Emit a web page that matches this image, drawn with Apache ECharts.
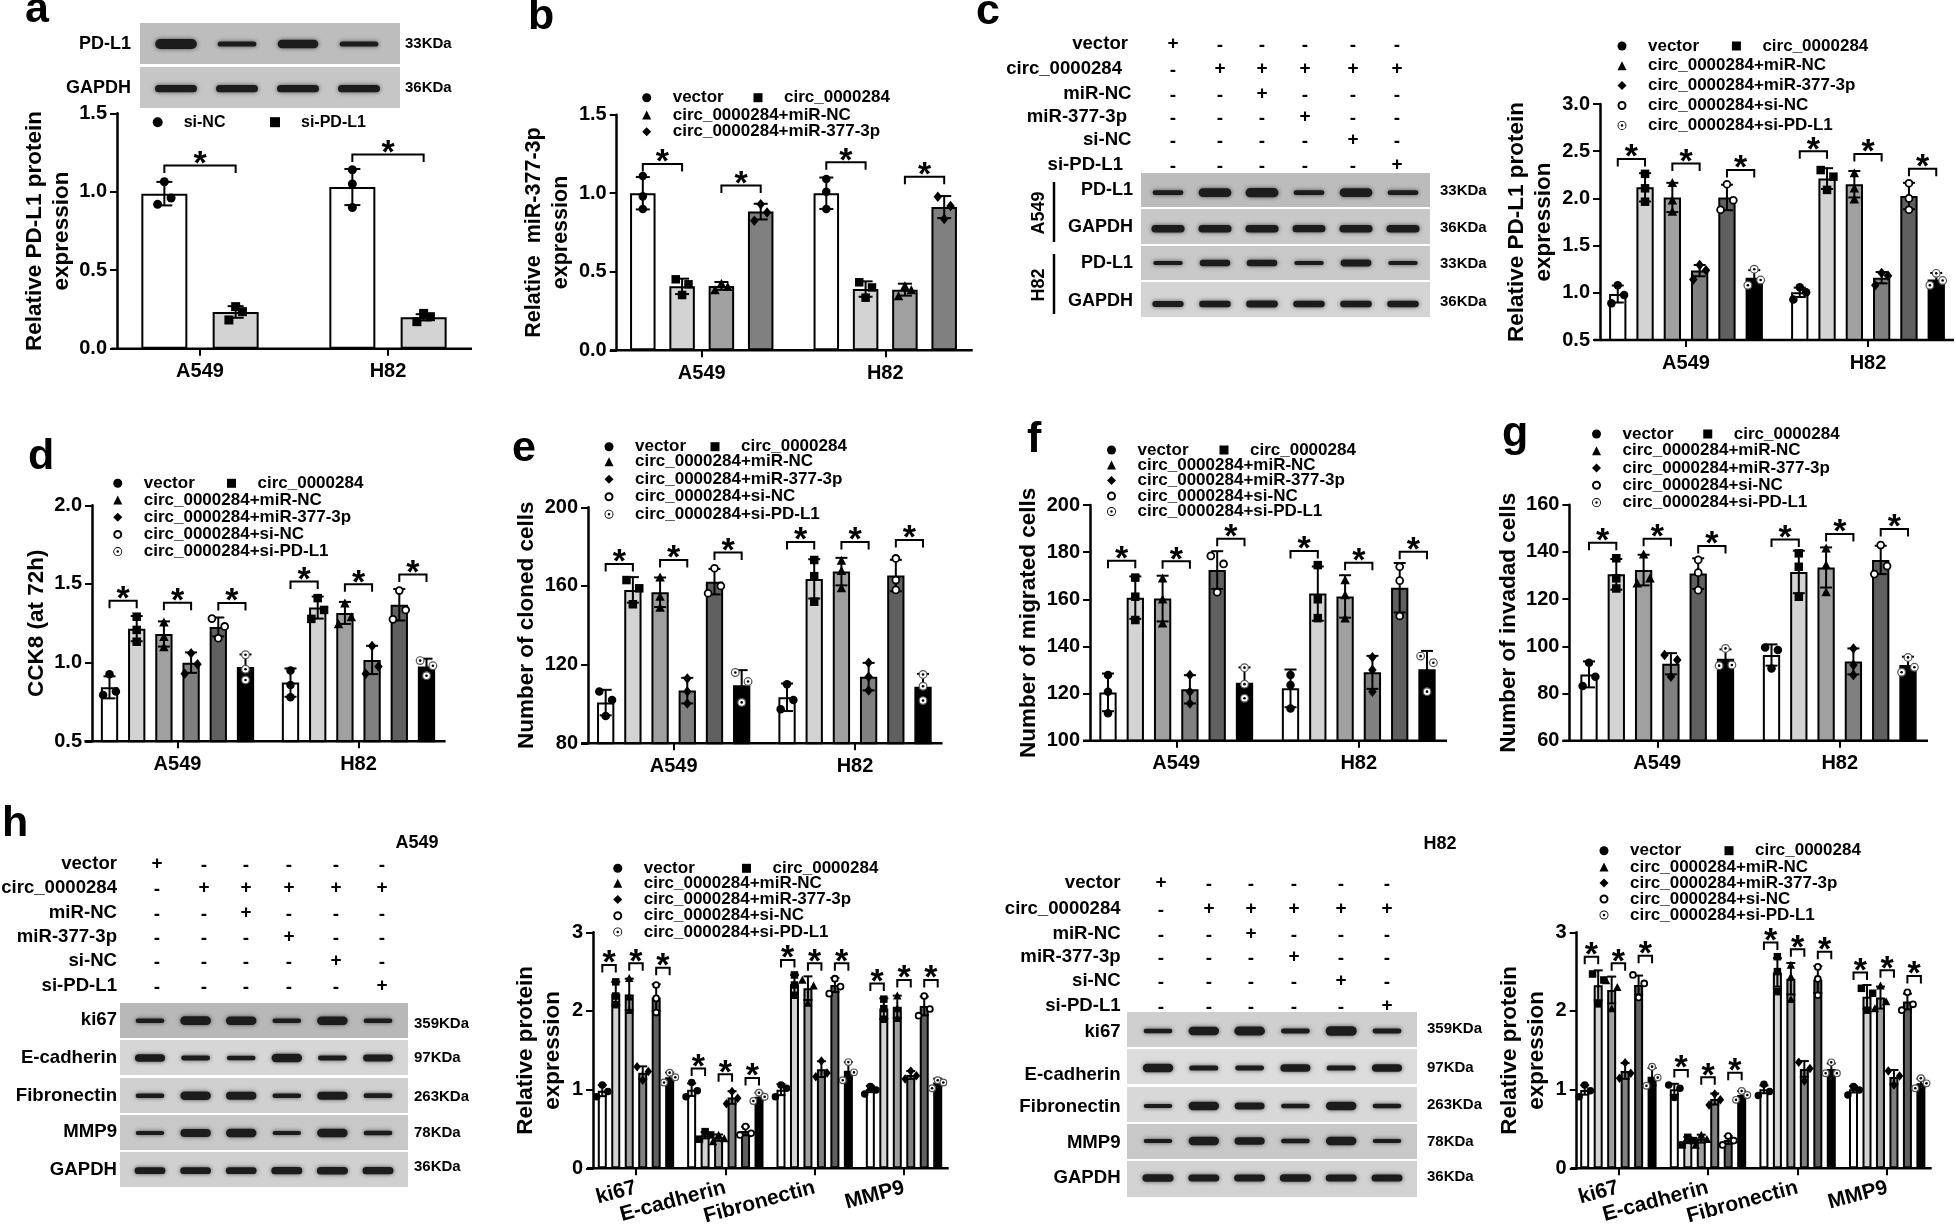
<!DOCTYPE html>
<html><head><meta charset="utf-8">
<script src="https://cdn.jsdelivr.net/npm/echarts@6/dist/echarts.min.js"></script>
<style>html,body{margin:0;background:#fff}#c{width:1956px;height:1225px}</style></head>
<body><div id="c"></div>
<script>
// ---------- categories and names ----------
const cells = ['A549','H82'];
const proteins = ['ki67','E-cadherin','Fibronectin','MMP9'];
const namesA = ['si-NC','si-PD-L1'];
const namesB = ['vector','circ_0000284','circ_0000284+miR-NC','circ_0000284+miR-377-3p'];
const namesC = ['vector','circ_0000284','circ_0000284+miR-NC','circ_0000284+miR-377-3p','circ_0000284+si-NC','circ_0000284+si-PD-L1'];
const treatments = ['vector','circ_0000284','miR-NC','miR-377-3p','si-NC','si-PD-L1'];
const treatmentSigns = ['+-----','-+++++','--+---','---+--','----+-','-----+'];

// ---------- series values: [series][category] ----------
const a_mean=[[.988,1.03],[.234,.20]];
const a_err=[[.075,.115],[.037,.02]];
const a_pts=[[[1.064,.96,.92],[1.14,1.05,.90]],[[.268,.236,.183],[.225,.204,.172]]];
const a_sig=[[1.168],[1.238]];

const b_mean=[[1.0,1.0],[.407,.39],[.41,.386],[.883,.912]];
const b_err=[[.103,.10],[.049,.049],[.025,.038],[.05,.07]];
const b_pts=[[[1.11,.98,.90],[1.09,1.01,.90]],[[.452,.42,.352],[.433,.40,.335]],[[.426,.405,.384],[.41,.384,.346]],[[.93,.878,.825],[.978,.918,.836]]];
const b_sig=[[1.186,1.05],[1.197,1.105]];

const c_mean=[[.987,1.005],[2.117,2.21],[2.01,2.15],[1.235,1.16],[2.01,2.025],[1.16,1.14]];
const c_err=[[.09,.05],[.15,.11],[.155,.14],[.06,.06],[.135,.14],[.08,.07]];
const c_pts=[[[1.08,.977,.888],[1.06,1.005,.93]],[[2.26,2.107,1.965],[2.30,2.23,2.09]],[[2.167,1.98,1.86],[2.27,2.107,1.99]],[[1.295,1.24,1.14],[1.21,1.18,1.08]],[[2.15,1.98,1.88],[2.16,2.0,1.88]],[[1.25,1.135,1.08],[1.206,1.13,1.08]]];
const c_sig=[[2.417,2.37,2.30],[2.50,2.47,2.315]];

const d_mean=[[.843,.873],[1.216,1.35],[1.182,1.316],[1.0,1.017],[1.227,1.368],[.972,.975]];
const d_err=[[.07,.09],[.08,.07],[.08,.07],[.065,.09],[.06,.10],[.08,.05]];
const d_pts=[[[.926,.816,.795],[.95,.858,.78]],[[1.292,1.208,1.133],[1.41,1.335,1.278]],[[1.256,1.165,1.10],[1.377,1.29,1.246]],[[1.06,.99,.93],[1.106,.975,.93]],[[1.28,1.23,1.155],[1.458,1.335,1.275]],[[1.05,.958,.89],[1.013,.98,.917]]];
const d_sig=[[1.394,1.381,1.379],[1.515,1.498,1.56]];

const e_mean=[[100.7,103.4],[158,163.6],[156.8,167.3],[106.8,113.9],[162.2,165.3],[109.5,108.8]];
const e_err=[[6.5,7],[6.5,10],[7.5,7],[6.5,7],[6.5,8],[7.7,6.5]];
const e_pts=[[[106.3,102,93.9],[110,102,97.3]],[[163,158.8,150.7],[173.2,165,152]],[[164.4,154.6,149],[172.9,167.8,159]],[[113,106.3,100.3],[121,113.9,106.8]],[[169,160,156.3],[174,163,158]],[[116,111.4,100.8],[115,109,101.7]]];
const e_sig=[[171.2,173.2,177],[182.4,182.4,183.4]];

const f_mean=[[120.5,122.2],[160.7,162.4],[160.3,161.2],[121.8,129],[172.4,164.9],[124.6,130.3]];
const f_err=[[8,8],[9,11.5],[9.7,9],[6,7],[8,10.5],[6.5,7.8]];
const f_pts=[[[127.9,120.8,111.6],[127.9,123.6,113.7]],[[169.2,161.1,151.2],[174.5,160,152]],[[168.9,160,149.8],[168.2,161.8,152]],[[127.9,120.8,115.8],[135.4,130,120.8]],[[178.4,175,163],[173.8,167.9,152.9]],[[131,124,118],[135.9,133.1,120.8]]];
const f_sig=[[176.4,176.1,185.7],[180.5,175.5,180.2]];

const g_mean=[[88.1,96.3],[130.5,131.5],[132.3,133.4],[92.6,93.6],[130.8,136.6],[94.7,92.1]];
const g_err=[[5.5,4.5],[6.5,9],[6.5,8.5],[4.5,5.5],[6.5,6],[4,3.5]];
const g_pts=[[[93,87.1,83.2],[99.5,98.4,90.6]],[[137.3,128.8,124.5],[139.4,133.7,121]],[[139,128.8,126.7],[141.5,134.4,123]],[[96.3,94.2,87.1],[99.1,92.1,87.8]],[[136.6,131.2,123.8],[142.9,134,130.6]],[[99.1,92.1,91.8],[95.3,91.1,89]]];
const g_sig=[[143.9,145.6,142.5],[145.3,147.6,149.7]];

const h1_mean=[[.987,1.0,1.0,1.008],[2.22,.42,2.34,2.03],[2.21,.39,2.29,2.055],[1.216,.90,1.26,1.186],[2.17,.475,2.33,2.064],[1.157,.91,1.24,1.09]];
const h1_err=[[.07,.08,.07,.04],[.15,.04,.12,.13],[.20,.04,.15,.14],[.08,.08,.10,.05],[.17,.055,.09,.12],[.06,.05,.11,.05]];
const h1_pts=[[[1.06,.975,.91],[1.09,.987,.91],[1.06,1.017,.91],[1.04,.996,.945]],[[2.37,2.19,2.08],[.466,.424,.37],[2.458,2.33,2.20],[2.15,2.03,1.895]],[[2.415,2.18,2.01],[.424,.38,.34],[2.394,2.32,2.10],[2.195,2.03,1.907]],[[1.29,1.23,1.12],[.975,.89,.82],[1.364,1.21,1.165],[1.237,1.178,1.136]],[[2.33,2.16,1.98],[.53,.445,.424],[2.41,2.31,2.22],[2.19,2.025,1.94]],[[1.216,1.157,1.09],[.96,.91,.856],[1.35,1.22,1.12],[1.12,1.09,1.017]]];
const h1_sig=[[2.585,2.606,2.55],[1.27,1.195,1.148],[2.648,2.606,2.606],[2.35,2.394,2.394]];

const h2_mean=[[.996,1.004,1.004,1.004],[2.326,.36,2.49,2.18],[2.267,.377,2.41,2.17],[1.237,.881,1.263,1.16],[2.33,.36,2.40,2.12],[1.165,.932,1.263,1.08]];
const h2_err=[[.06,.07,.05,.04],[.19,.04,.18,.15],[.17,.05,.20,.14],[.10,.07,.10,.09],[.12,.05,.17,.10],[.11,.05,.07,.06]];
const h2_pts=[[[1.06,.987,.91],[1.06,1.017,.90],[1.068,.975,.924],[1.04,.996,.932]],[[2.47,2.394,2.09],[.394,.352,.297],[2.69,2.5,2.246],[2.288,2.225,2.01]],[[2.386,2.30,2.03],[.424,.37,.297],[2.585,2.436,2.148],[2.32,2.12,2.03]],[[1.343,1.208,1.144],[.945,.87,.805],[1.347,1.27,1.11],[1.237,1.174,1.06]],[[2.458,2.35,2.17],[.41,.352,.297],[2.56,2.407,2.20],[2.237,2.085,2.01]],[[1.292,1.153,1.05],[.983,.932,.87],[1.347,1.208,1.208],[1.144,1.08,1.017]]];
const h2_sig=[[2.69,2.606,2.703],[1.25,1.157,1.216],[2.87,2.784,2.754],[2.49,2.517,2.445]];

// ---------- blot band strengths per lane ----------
const a_PDL1=[1,.4,.8,.4], a_GAPDH=[.65,.65,.65,.65];
const cA_PDL1=[.35,.85,.9,.35,.85,.35], cA_GAPDH=[.7,.7,.7,.65,.7,.7];
const cH_PDL1=[.25,.55,.55,.25,.6,.25], cH_GAPDH=[.5,.55,.6,.55,.55,.55];
const h1_ki67=[.3,.85,.8,.3,.8,.3], h1_ecad=[.7,.35,.3,.8,.35,.6], h1_fib=[.3,.8,.75,.3,.75,.35], h1_mmp=[.25,.75,.8,.25,.8,.3], h1_gapdh=[.6,.6,.6,.65,.7,.65];
const h2_ki67=[.3,.8,.85,.35,.95,.35], h2_ecad=[.8,.4,.35,.7,.4,.7], h2_fib=[.25,.8,.65,.3,.8,.3], h2_mmp=[.25,.8,.7,.3,.8,.25], h2_gapdh=[.7,.65,.65,.7,.65,.65];

// ---------- layout ----------
const FONT='"Liberation Sans"';
const barFills=['#ffffff','#d3d3d3','#a0a0a0','#808080','#606060','#000000'];
const P={circle:'path://M0,5A5,5,0,1,1,10,5A5,5,0,1,1,0,5Z',
 square:'path://M0,0H10V10H0Z',tri:'path://M5,0L10,10H0Z',dia:'path://M5,0L10,5L5,10L0,5Z',
 ring:'path://M0,5A5,5,0,1,1,10,5A5,5,0,1,1,0,5ZM2.2,5A2.8,2.8,0,1,0,7.8,5A2.8,2.8,0,1,0,2.2,5Z',
 target:'path://M0,5A5,5,0,1,1,10,5A5,5,0,1,1,0,5ZM1,5A4,4,0,1,0,9,5A4,4,0,1,0,1,5ZM3.6,5A1.4,1.4,0,1,1,6.4,5A1.4,1.4,0,1,1,3.6,5Z'};
const legendIcons=[P.circle,P.square,P.tri,P.dia,P.ring,P.target];
const f1=v=>v.toFixed(1), f0=v=>String(v);
const panels=[
 {names:namesA,cats:cells,mean:a_mean,err:a_err,pts:a_pts,sig:a_sig,L:106,R:482,T:113.3,B:348.7,ax:117,xs:111,xe:472,min:0,max:1.5,step:.5,fmt:f1,title:'Relative PD-L1 protein\nexpression',gap:42,tf:22.5,outer:48,pitch:71.3,cap:8,ms:9,
  leg:{x1:183.7,x2:301,y1:122.7,fs:16}},
 {names:namesB,cats:cells,mean:b_mean,err:b_err,pts:b_pts,sig:b_sig,L:610,R:977,T:114.7,B:350.3,ax:616.7,xs:610,xe:972.7,min:0,max:1.5,step:.5,fmt:f1,title:'Relative  miR-377-3p\nexpression',gap:41.7,tf:21.5,outer:27.5,pitch:39.3,cap:7,ms:8.5,
  leg:{x1:672.7,x2:784,y1:97.7,y2:115,pitch:16.8,fs:17}},
 {names:namesC,cats:cells,mean:c_mean,err:c_err,pts:c_pts,sig:c_sig,L:1595,R:1959,T:104,B:340,ax:1600,xs:1594,xe:1954,min:.5,max:3,step:.5,fmt:f1,title:'Relative PD-L1 protein\nexpression',gap:43,tf:22.5,outer:19.3,pitch:27.3,cap:6,ms:8.5,
  leg:{x1:1648,x2:1762.4,y1:46,y2:65.7,pitch:19.9,fs:17}},
 {names:namesC,cats:cells,mean:d_mean,err:d_err,pts:d_pts,sig:d_sig,L:87,R:449,T:505.3,B:741.3,ax:92,xs:84.4,xe:445.6,min:.5,max:2,step:.5,fmt:f1,title:'CCK8 (at 72h)',gap:40,tf:22.5,outer:19.3,pitch:27.2,cap:6,ms:8.5,
  leg:{x1:143.75,x2:257.5,y1:483.3,y2:500,pitch:17.2,fs:17}},
 {names:namesC,cats:cells,mean:e_mean,err:e_err,pts:e_pts,sig:e_sig,L:583,R:945.7,T:507.3,B:743.3,ax:588,xs:581,xe:942.5,min:80,max:200,step:40,fmt:f0,title:'Number of cloned cells',gap:46,tf:22.5,outer:19.3,pitch:27.2,cap:6,ms:8.5,
  leg:{x1:635,x2:741,y1:446.7,y2:461.7,pitch:17.5,fs:17}},
 {names:namesC,cats:cells,mean:f_mean,err:f_err,pts:f_pts,sig:f_sig,L:1085,R:1450,T:505,B:740.7,ax:1090,xs:1083,xe:1447,min:100,max:200,step:20,fmt:f0,title:'Number of migrated cells',gap:47,tf:22.5,outer:19.3,pitch:27.3,cap:6,ms:8.5,
  leg:{x1:1137.5,x2:1250,y1:450,y2:465,pitch:15.5,fs:17}},
 {names:namesC,cats:cells,mean:g_mean,err:g_err,pts:g_pts,sig:g_sig,L:1566,R:1931,T:504.7,B:740.7,ax:1569.4,xs:1562.5,xe:1928,min:60,max:160,step:20,fmt:f0,title:'Number of invadad cells',gap:46,tf:22.5,outer:19.3,pitch:27.3,cap:6,ms:8.5,
  leg:{x1:1622.5,x2:1733.75,y1:434,y2:450.7,pitch:17.3,fs:17}},
 {names:namesC,cats:proteins,mean:h1_mean,err:h1_err,pts:h1_pts,sig:h1_sig,L:591.3,R:948.7,T:932.3,B:1168.3,ax:593,xs:587,xe:948.7,min:0,max:3,step:1,fmt:f0,title:'Relative protein\nexpression',gap:27,tf:22.5,outer:11,pitch:13.47,cap:4.5,ms:7.5,rot:15,
  leg:{x1:643.75,x2:772.5,y1:868.3,y2:883.3,pitch:16.2,fs:17}},
 {names:namesC,cats:proteins,mean:h2_mean,err:h2_err,pts:h2_pts,sig:h2_sig,L:1573.6,R:1932,T:932.3,B:1168.3,ax:1576.7,xs:1570.7,xe:1931.7,min:0,max:3,step:1,fmt:f0,title:'Relative protein\nexpression',gap:26,tf:22.5,outer:11,pitch:13.47,cap:4.5,ms:7.5,rot:15,
  leg:{x1:1630,x2:1755,y1:850.7,y2:867,pitch:16,fs:17}}
];
const strips=[
 {b:a_PDL1,l:140,r:400,t:23,B:64,y:44,x0:176,p:61,w:40,bg:'#bdbdbd'},
 {b:a_GAPDH,l:140,r:400,t:67,B:108,y:88.7,x0:176,p:61,w:42,bg:'#c6c6c6'},
 {b:cA_PDL1,l:1141,r:1430,t:173,B:207,y:192.7,x0:1168,p:47,w:32,bg:'#bcbcbc'},
 {b:cA_GAPDH,l:1141,r:1430,t:209,B:244,y:228.7,x0:1168,p:47,w:33,bg:'#c8c8c8'},
 {b:cH_PDL1,l:1141,r:1430,t:246,B:280,y:263,x0:1168,p:47,w:31,bg:'#c8c8c8'},
 {b:cH_GAPDH,l:1141,r:1430,t:282,B:317,y:304,x0:1168,p:47,w:32,bg:'#d4d4d4'},
 {b:h1_ki67,l:120,r:408,t:1003,B:1038,y:1020.7,x0:150,p:45.6,w:30,bg:'#b8b8b8'},
 {b:h1_ecad,l:120,r:408,t:1040,B:1075,y:1058,x0:150,p:45.6,w:30,bg:'#d6d6d6'},
 {b:h1_fib,l:120,r:408,t:1078,B:1113,y:1095.7,x0:150,p:45.6,w:30,bg:'#d0d0d0'},
 {b:h1_mmp,l:120,r:408,t:1115,B:1150,y:1133,x0:150,p:45.6,w:30,bg:'#c8c8c8'},
 {b:h1_gapdh,l:120,r:408,t:1152,B:1187,y:1170.7,x0:150,p:45.6,w:31,bg:'#d0d0d0'},
 {b:h2_ki67,l:1127,r:1417,t:1012,B:1047,y:1031,x0:1158,p:45.8,w:30,bg:'#cfcfcf'},
 {b:h2_ecad,l:1127,r:1417,t:1049,B:1084,y:1068,x0:1158,p:45.8,w:30,bg:'#dcdcdc'},
 {b:h2_fib,l:1127,r:1417,t:1087,B:1122,y:1106,x0:1158,p:45.8,w:30,bg:'#d8d8d8'},
 {b:h2_mmp,l:1127,r:1417,t:1124,B:1159,y:1141,x0:1158,p:45.8,w:30,bg:'#c8c8c8'},
 {b:h2_gapdh,l:1127,r:1417,t:1161,B:1197,y:1178,x0:1158,p:45.8,w:31,bg:'#d2d2d2'}
];

// ---------- option building ----------
const grid=[],xAxis=[],yAxis=[],series=[],legend=[],graphic=[];
function text(x,y,s,fs,align,extra){graphic.push(Object.assign({type:'text',x,y,z:20,style:{text:s,fill:'#000',font:'bold '+fs+'px '+FONT,align:align||'left',verticalAlign:'middle'}},extra||{}));}
function line(x1,y1,x2,y2,lw){graphic.push({type:'line',z:15,shape:{x1,y1,x2,y2},style:{stroke:'#000',lineWidth:lw}});}

function marker(k,x,y,s){
 const r=s/2;
 if(k===0)return{type:'circle',shape:{cx:x,cy:y,r},style:{fill:'#000'}};
 if(k===1)return{type:'rect',shape:{x:x-r,y:y-r,width:s,height:s},style:{fill:'#000'}};
 if(k===2)return{type:'polygon',shape:{points:[[x,y-r-.5],[x+r+.5,y+r],[x-r-.5,y+r]]},style:{fill:'#000'}};
 if(k===3)return{type:'polygon',shape:{points:[[x,y-r-1],[x+r,y],[x,y+r+1],[x-r,y]]},style:{fill:'#000'}};
 if(k===4)return{type:'circle',shape:{cx:x,cy:y,r:r-.8},style:{fill:'#fff',stroke:'#000',lineWidth:1.8}};
 return{type:'group',children:[{type:'circle',shape:{cx:x,cy:y,r:r-.4},style:{fill:'#fff',stroke:'#555',lineWidth:1.2}},{type:'circle',shape:{cx:x,cy:y,r:1.3},style:{fill:'#000'}}]};
}
panels.forEach((p,pi)=>{
 const n=p.names.length,bw=p.outer-2;
 grid.push({left:p.L,top:p.T,width:p.R-p.L,height:p.B-p.T,outerBoundsMode:'none'});
 xAxis.push({gridIndex:pi,type:'category',data:p.cats,axisLine:{show:false,onZero:false},
  axisTick:{show:true,alignWithLabel:true,length:7,lineStyle:{color:'#000',width:2}},
  axisLabel:{interval:0,hideOverlap:false,color:'#000',fontFamily:FONT,fontWeight:'bold',fontSize:p.rot?21:20,margin:p.rot?19:13,rotate:p.rot||0}});
 yAxis.push({gridIndex:pi,type:'value',min:p.min,max:p.max,interval:p.step,offset:p.L-p.ax,splitLine:{show:false},
  axisLine:{show:true,lineStyle:{color:'#000',width:2.5}},axisTick:{show:true,length:7,lineStyle:{color:'#000',width:2}},
  axisLabel:{formatter:p.fmt,color:'#000',fontFamily:FONT,fontWeight:'bold',fontSize:20,margin:10},
  name:p.title,nameLocation:'middle',nameGap:p.gap,nameRotate:90,
  nameTextStyle:{color:'#000',fontFamily:FONT,fontWeight:'bold',fontSize:p.tf,lineHeight:27}});
 line(p.xs,p.B,p.xe,p.B,2.5);
 p.names.forEach((nm,si)=>{
  series.push({type:'bar',name:nm,xAxisIndex:pi,yAxisIndex:pi,data:p.mean[si],barWidth:bw,barGap:((p.pitch-bw)/bw*100).toFixed(1)+'%',z:2,silent:true,
   itemStyle:{color:barFills[si],borderColor:'#000',borderWidth:2}});
 });
 // error bars and replicate points
 const rows=[];
 p.names.forEach((nm,si)=>p.cats.forEach((c,ci)=>rows.push([si,ci,p.mean[si][ci],p.err[si][ci],...p.pts[si][ci]])));
 series.push({type:'custom',coordinateSystem:'cartesian2d',xAxisIndex:pi,yAxisIndex:pi,z:5,silent:true,clip:false,encode:{x:1,y:2},data:rows,
  renderItem(_,api){
   const si=api.value(0),ci=api.value(1);
   const x=api.coord([ci,p.mean[si][ci]])[0]+(si-(n-1)/2)*p.pitch;
   const top=api.coord([ci,api.value(2)+api.value(3)])[1],bot=api.coord([ci,api.value(2)-api.value(3)])[1];
   const ls={stroke:'#000',lineWidth:2};
   const kids=[
    {type:'line',shape:{x1:x,y1:top,x2:x,y2:bot},style:ls},
    {type:'line',shape:{x1:x-p.cap,y1:top,x2:x+p.cap,y2:top},style:ls},
    {type:'line',shape:{x1:x-p.cap,y1:bot,x2:x+p.cap,y2:bot},style:ls}];
   const ys=[4,5,6].map(i=>api.coord([ci,api.value(i)])[1]);
   const dx=[0,0,0],near=p.ms*1.15,sh=p.ms*.75;
   if(ys[1]-ys[0]<near&&ys[2]-ys[1]<near){dx[0]=0;dx[1]=sh;dx[2]=-sh;}
   else if(ys[1]-ys[0]<near){dx[0]=-sh;dx[1]=sh;}
   else if(ys[2]-ys[1]<near){dx[1]=sh;dx[2]=-sh;}
   ys.forEach((y,i)=>kids.push(marker(si,x+dx[i],y,p.ms)));
   return{type:'group',children:kids};
  }});
 // significance brackets
 const sigRows=[];
 p.sig.forEach((r,ci)=>r.forEach((v,k)=>sigRows.push([ci,k,v])));
 series.push({type:'custom',coordinateSystem:'cartesian2d',xAxisIndex:pi,yAxisIndex:pi,z:6,silent:true,clip:false,encode:{x:0,y:2},data:sigRows,
  renderItem(_,api){
   const ci=api.value(0),k=api.value(1),c=api.coord([ci,api.value(2)]);
   const x1=c[0]+(2*k-(n-1)/2)*p.pitch,x2=c[0]+(2*k+1-(n-1)/2)*p.pitch,y=c[1];
   return{type:'group',children:[
    {type:'polyline',shape:{points:[[x1,y+7.5],[x1,y],[x2,y],[x2,y+7.5]]},style:{stroke:'#000',lineWidth:2,fill:null}},
    {type:'text',style:{x:(x1+x2)/2,y:y-1,text:'*',font:'bold 34px '+FONT,fill:'#000',align:'center',verticalAlign:'middle'}}]};
  }});
 // legend: the text sits at left + half the icon box + half the icon + 5
 const lg=p.leg,W=42,ih=lg.fs===16?10:9,common={selectedMode:false,padding:0,itemWidth:W,itemHeight:ih,textStyle:{color:'#000',fontFamily:FONT,fontWeight:'bold',fontSize:lg.fs,lineHeight:14},tooltip:{show:false}};
 const lx=x=>x-W/2-5-ih/2;
 const it=(i)=>({name:p.names[i],icon:legendIcons[i],itemStyle:{color:'#000',borderWidth:0}});
 legend.push(Object.assign({},common,{left:lx(lg.x1),top:lg.y1-8.5,data:[it(0)]}));
 legend.push(Object.assign({},common,{left:lx(lg.x2),top:lg.y1-8.5,data:[it(1)]}));
 if(n>2)legend.push(Object.assign({},common,{orient:'vertical',left:lx(lg.x1),top:lg.y2-8.5,itemGap:lg.pitch-17,data:p.names.slice(2).map((_,i)=>it(i+2))}));
});
// blot strips
strips.forEach(s=>{
 const gi=grid.length;
 grid.push({left:s.l,top:s.t,width:s.r-s.l,height:s.B-s.t,show:true,backgroundColor:s.bg,borderWidth:0,outerBoundsMode:'none'});
 xAxis.push({gridIndex:gi,type:'value',show:false,min:(s.l-s.x0)/s.p,max:(s.r-s.x0)/s.p,splitLine:{show:false}});
 yAxis.push({gridIndex:gi,type:'value',show:false,min:s.t,max:s.B,inverse:true,splitLine:{show:false}});
 series.push({type:'custom',coordinateSystem:'cartesian2d',xAxisIndex:gi,yAxisIndex:gi,z:3,silent:true,encode:{x:0,y:1},
  data:s.b.map((v,i)=>[i,s.y,v]),
  renderItem(_,api){
   const c=api.coord([api.value(0),api.value(1)]),I=api.value(2),h=2+8*I,w=s.w*(.92+.12*I);
   return{type:'rect',shape:{x:c[0]-w/2,y:c[1]-h/2,width:w,height:h,r:h/2},style:{fill:'#1c1c1c',shadowBlur:4,shadowColor:'rgba(30,30,30,.7)'}};
  }});
});
// panel letters
[['a',25,32],['b',528,39],['c',976,34],['d',28,479],['e',512,471],['f',1027,462],['g',1502,456],['h',2,846]].forEach(l=>{
 graphic.push({type:'text',x:l[1],y:l[2],z:20,style:{text:l[0],fill:'#000',font:'bold 43px '+FONT,align:'left',verticalAlign:'bottom'}});
});
// blot labels
text(131,44,'PD-L1',18,'right');text(131,88,'GAPDH',18,'right');text(405,44,'33KDa',15);text(405,88,'36KDa',15);
[[190,'PD-L1','33KDa'],[227,'GAPDH','36KDa'],[263,'PD-L1','33KDa'],[301,'GAPDH','36KDa']].forEach(r=>{text(1133,r[0],r[1],18,'right');text(1440,r[0]+1,r[2],15);});
text(1039,213,'A549',18,'center',{rotation:Math.PI/2});text(1039,285,'H82',18,'center',{rotation:Math.PI/2});
line(1054,182,1054,242,2.5);line(1054,254,1054,314,2.5);
const h1L=[[1020,1024,'359KDa'],[1058,1058,'97KDa'],[1096,1097,'263KDa'],[1132,1133,'78KDa'],[1170,1167,'36KDa']];
proteins.concat('GAPDH').forEach((nm,i)=>{text(117,h1L[i][0],nm,18.6,'right');text(414,h1L[i][1],h1L[i][2],15);});
const h2L=[[1032,1029,'359KDa'],[1075,1068,'97KDa'],[1107,1105,'263KDa'],[1143,1142,'78KDa'],[1178,1177,'36KDa']];
proteins.concat('GAPDH').forEach((nm,i)=>{text(1120.6,h2L[i][0],nm,18.6,'right');text(1427,h2L[i][1],h2L[i][2],15);});
text(417,843,'A549',18,'center');text(1440,844,'H82',18,'center');
// treatment tables
function table(rx,ys,xs){treatments.forEach((t,r)=>{text(rx[r],ys[r],t,18.6,'right');
 [...treatmentSigns[r]].forEach((c,i)=>text(xs[i],ys[r]+(c==='-'?2:0),c,19,'center'));});}
table([1128,1122,1131.5,1127,1131.5,1123],[44,69,94,117,140,165],[1173,1220,1262,1305,1353,1397]);
table([117,117,117,117,117,117],[864,888,913,937,961,986],[157,204,246,289,336,382]);
table([1120.6,1120.6,1120.6,1120.6,1120.6,1120.6],[883,909,934,957,981,1006],[1161,1209,1251,1294,1341,1387]);

const chart=echarts.init(document.getElementById('c'),null,{width:1956,height:1225,renderer:'canvas'});
chart.setOption({animation:false,backgroundColor:'#fff',textStyle:{fontFamily:FONT},grid,xAxis,yAxis,legend,series,graphic:{elements:graphic}});
</script></body></html>
